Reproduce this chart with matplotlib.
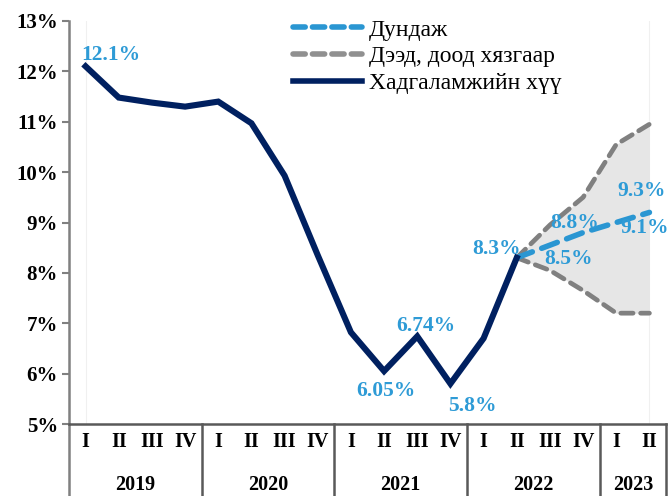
import matplotlib
matplotlib.use("Agg")
import matplotlib.pyplot as plt
import matplotlib.transforms as mtransforms
from matplotlib.lines import Line2D
import numpy as np

SERIF = ['Liberation Serif', 'DejaVu Serif']

quarters = ['I', 'II', 'III', 'IV'] * 4 + ['I', 'II']
years = ['2019', '2020', '2021', '2022', '2023']
year_counts = [4, 4, 4, 4, 2]

actual = [12.1, 11.48, 11.38, 11.3, 11.4, 10.97, 9.93, 8.35,
          6.82, 6.05, 6.74, 5.8, 6.7, 8.3]
fc_idx = [13, 14, 15, 16, 17]
mean = [8.3, 8.55, 8.8, 9.0, 9.2]
upper = [8.3, 8.95, 9.5, 10.55, 10.95]
lower = [8.3, 8.05, 7.65, 7.2, 7.2]

labels = [
    ("12.1%", 0.75, 12.32),
    ("6.05%", 9.05, 5.66),
    ("6.74%", 10.25, 6.95),
    ("5.8%", 11.65, 5.35),
    ("8.3%", 12.4, 8.48),
    ("8.8%", 14.75, 9.0),
    ("8.5%", 14.55, 8.28),
    ("9.3%", 16.75, 9.62),
    ("9.1%", 16.85, 8.9),
]

NAVY = '#002060'
BLUE = '#2A96D2'
GREY = '#808080'
LBL = '#2E9BD6'

fig = plt.figure(figsize=(6.68, 4.96), dpi=100)
ax = fig.add_axes([69/668, 1-424/496, (666-69)/668, (424-21)/496])

x_act = np.arange(len(actual))
ax.fill_between(fc_idx, lower, upper, color='#E6E6E6', lw=0, zorder=1)
ax.axvline(0, color='#F0F0F0', lw=0.8, zorder=0)
ax.axvline(17, color='#F0F0F0', lw=0.8, zorder=0)

ax.plot(fc_idx, upper, color=GREY, lw=3.4, ls=(0, (2.6, 1.6)), dash_capstyle='round', zorder=2)
ax.plot(fc_idx, lower, color=GREY, lw=3.4, ls=(0, (2.6, 1.6)), dash_capstyle='round', zorder=2)
ax.plot(fc_idx, mean, color=BLUE, lw=4.0, ls=(0, (3.0, 1.8)), dash_capstyle='round', zorder=3)
ax.plot(x_act, actual, color=NAVY, lw=4.4, solid_joinstyle='miter', zorder=4)

for t, xx, yy in labels:
    ax.text(xx, yy, t, color=LBL, fontsize=15.5, fontweight='bold', family=SERIF,
            ha='center', va='center', zorder=5)

ax.set_xlim(-0.5, 17.5)
ax.set_ylim(5, 13)
ax.set_yticks(np.arange(5, 14, 1))
ax.set_yticklabels([f"{v}%" for v in range(5, 14)], fontsize=15, fontweight='bold', family=SERIF)
ax.tick_params(axis='y', length=5, width=1.5, color=GREY, pad=3)
ax.set_xticks([])
for s in ['top', 'right']:
    ax.spines[s].set_visible(False)
ax.spines['left'].set_color(GREY)
ax.spines['left'].set_linewidth(1.8)
ax.spines['bottom'].set_color('#595959')
ax.spines['bottom'].set_linewidth(1.8)

trans = mtransforms.blended_transform_factory(ax.transData, ax.transAxes)
for i, q in enumerate(quarters):
    ax.text(i, -0.044, q, transform=trans, ha='center', va='center',
            fontsize=14.5, fontweight='bold', family=SERIF)
start = 0
bottom_y = -(496-424)/(424-21)
for yr, n in zip(years, year_counts):
    ax.text(start + n/2 - 0.5, -0.152, yr, transform=trans, ha='center', va='center',
            fontsize=14.5, fontweight='bold', family=SERIF)
    b = start + n - 0.5
    ax.plot([b, b], [0, bottom_y], transform=trans, color='#595959', lw=1.8, clip_on=False)
    start += n
ax.plot([-0.5, -0.5], [0, bottom_y], transform=trans, color=GREY, lw=1.8, clip_on=False)

handles = [
    Line2D([0], [0], color=BLUE, lw=4.0, ls=(0, (2.2, 1.3)), dash_capstyle='round'),
    Line2D([0], [0], color='#909090', lw=4.0, ls=(0, (2.2, 1.3)), dash_capstyle='round'),
    Line2D([0], [0], color=NAVY, lw=4.0),
]
leg = ax.legend(handles, ['Дундаж', 'Дээд, доод хязгаар', 'Хадгаламжийн хүү'],
                loc='upper left', bbox_to_anchor=(0.36, 1.028), frameon=False,
                prop={'family': SERIF, 'size': 17}, handlelength=2.9,
                handletextpad=0.3, labelspacing=0.22, borderaxespad=0)

fig.savefig('out.png', dpi=100)
